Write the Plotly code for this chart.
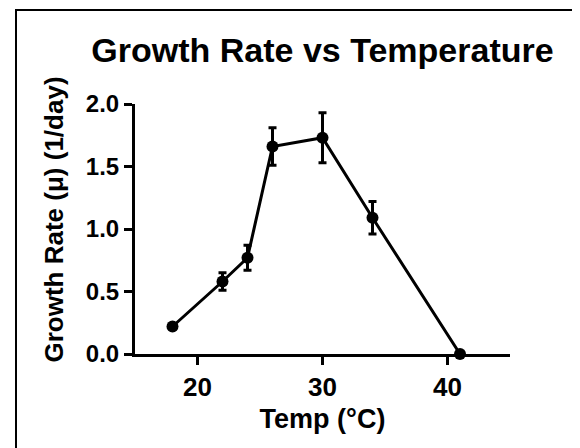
import plotly.graph_objects as go

# growth rate
temp = [18, 22, 24, 26, 30, 34, 41]
rate = [0.22, 0.58, 0.77, 1.66, 1.73, 1.09, 0.0]
rate_err = [0.0, 0.07, 0.10, 0.15, 0.20, 0.13, 0.0]

y_ticks = [0.0, 0.5, 1.0, 1.5, 2.0]
x_ticks = [20, 30, 40]

font_family = "Arial, Liberation Sans, sans-serif"

fig = go.Figure()
fig.add_trace(go.Scatter(
    x=temp, y=rate,
    mode="lines+markers",
    line=dict(color="black", width=3),
    marker=dict(color="black", size=12),
    error_y=dict(type="data", array=rate_err, visible=True,
                 color="black", thickness=3, width=4),
    cliponaxis=False,
    showlegend=False,
))

# page body has an 8px margin, so the figure is 8px smaller each way
W, H = 572, 440
L, R, T, B = 127, 70, 96, 94
pw, ph = W - L - R, H - T - B

# outer frame, its right and bottom edges run off the picture
fig.add_shape(type="rect", xref="paper", yref="paper",
              x0=(8 - L) / pw, x1=(W + 20 - L) / pw,
              y0=-(B + 20) / ph, y1=((H - B) - 2) / ph,
              line=dict(color="black", width=2), fillcolor="rgba(0,0,0,0)")

# y title sits a bit above the plot centre, so place it by hand
fig.add_annotation(text="Growth Rate (μ) (1/day)", textangle=-90,
                   xref="paper", yref="paper",
                   x=(45 - L) / pw, y=((H - B) - 211.5) / ph,
                   xanchor="center", yanchor="middle", showarrow=False,
                   font=dict(size=26, family=font_family, weight="bold", color="black"))

fig.update_layout(
    width=W, height=H,
    margin=dict(l=L, r=R, t=T, b=B),
    plot_bgcolor="white", paper_bgcolor="white",
    font=dict(family=font_family, color="black", weight="bold"),
    title=dict(text="Growth Rate vs Temperature", x=(L + pw / 2) / W, xanchor="center",
               y=1 - 42 / H, yanchor="middle",
               font=dict(size=34, family=font_family, weight="bold")),
)
fig.update_xaxes(
    range=[15, 45], tickvals=x_ticks,
    showgrid=False, zeroline=False,
    showline=True, linecolor="black", linewidth=3,
    ticks="outside", ticklen=8, tickwidth=3, tickcolor="black",
    tickfont=dict(size=26, family=font_family, weight="bold"),
    title=dict(text="Temp (°C)", standoff=8,
               font=dict(size=27, family=font_family, weight="bold")),
)
fig.update_yaxes(
    range=[0, 2], tickvals=y_ticks, tickformat=".1f",
    showgrid=False, zeroline=False,
    showline=True, linecolor="black", linewidth=3,
    ticks="outside", ticklen=8, tickwidth=3, tickcolor="black",
    tickfont=dict(size=24, family=font_family, weight="bold"),
)

fig.write_html("out.html")
